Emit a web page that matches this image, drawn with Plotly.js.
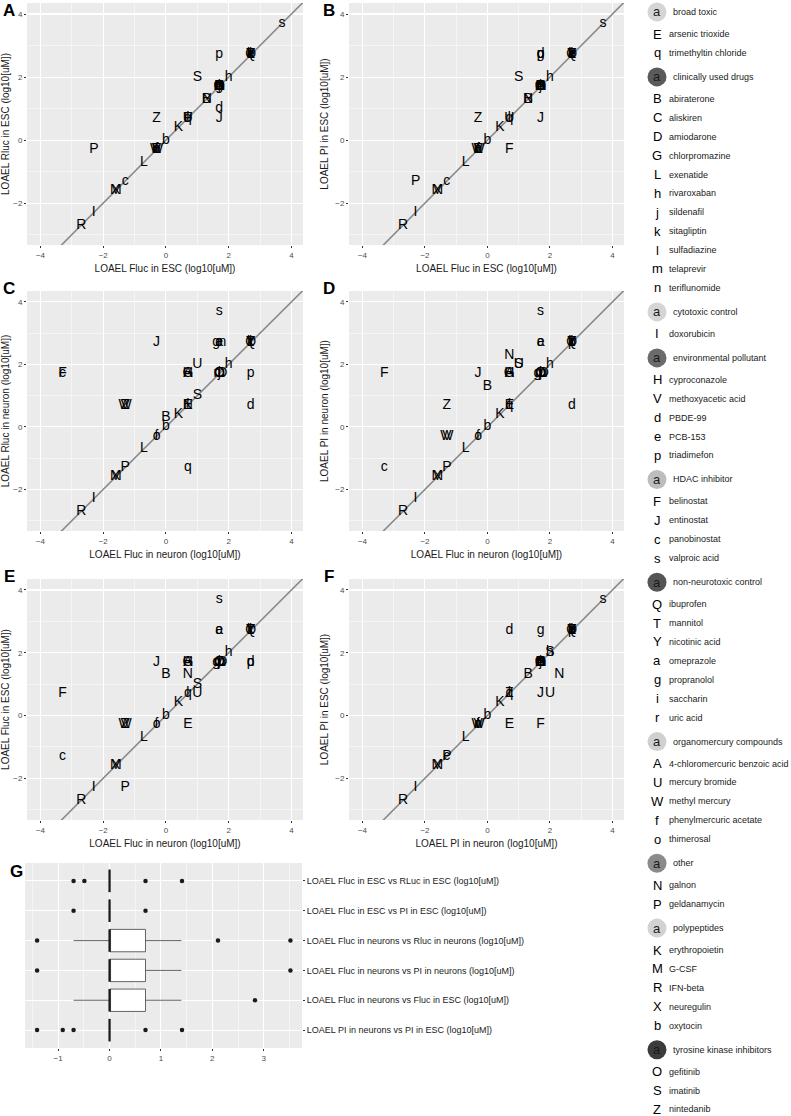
<!DOCTYPE html>
<html><head><meta charset="utf-8">
<script src="https://cdn.plot.ly/plotly-3.0.1.min.js"></script>
<style>html,body{margin:0;padding:0;background:#fff}#chart{width:791px;height:1116px}</style>
</head><body><div id="chart"></div>
<script>
// ---------------- DATA ----------------
const letters = ['E','q','B','C','D','G','L','h','j','k','l','m','n','I','H','V','d','e','p','F','J','c','s','Q','T','Y','a','g','i','r','A','U','W','f','o','N','P','K','M','R','X','b','O','S','Z'];
const compoundNames = ['arsenic trioxide','trimethyltin chloride','abiraterone','aliskiren','amiodarone','chlorpromazine','exenatide','rivaroxaban','sildenafil','sitagliptin','sulfadiazine','telaprevir','teriflunomide','doxorubicin','cyproconazole','methoxyacetic acid','PBDE-99','PCB-153','triadimefon','belinostat','entinostat','panobinostat','valproic acid','ibuprofen','mannitol','nicotinic acid','omeprazole','propranolol','saccharin','uric acid','4-chloromercuric benzoic acid','mercury bromide','methyl mercury','phenylmercuric acetate','thimerosal','galnon','geldanamycin','erythropoietin','G-CSF','IFN-beta','neuregulin','oxytocin','gefitinib','imatinib','nintedanib'];
const compoundGroup = ['broad toxic','broad toxic','clinically used drugs','clinically used drugs','clinically used drugs','clinically used drugs','clinically used drugs','clinically used drugs','clinically used drugs','clinically used drugs','clinically used drugs','clinically used drugs','clinically used drugs','cytotoxic control','environmental pollutant','environmental pollutant','environmental pollutant','environmental pollutant','environmental pollutant','HDAC inhibitor','HDAC inhibitor','HDAC inhibitor','HDAC inhibitor','non-neurotoxic control','non-neurotoxic control','non-neurotoxic control','non-neurotoxic control','non-neurotoxic control','non-neurotoxic control','non-neurotoxic control','organomercury compounds','organomercury compounds','organomercury compounds','organomercury compounds','organomercury compounds','other','other','polypeptides','polypeptides','polypeptides','polypeptides','polypeptides','tyrosine kinase inhibitors','tyrosine kinase inhibitors','tyrosine kinase inhibitors'];
const groupNames = ['broad toxic','clinically used drugs','cytotoxic control','environmental pollutant','HDAC inhibitor','non-neurotoxic control','organomercury compounds','other','polypeptides','tyrosine kinase inhibitors'];

// LOAEL values, log10[uM]         E    q    B    C    D    G    L    h    j    k    l    m    n    I    H    V    d    e    p    F    J    c    s    Q    T    Y    a    g    i    r    A    U    W    f    o    N    P    K    M    R    X    b    O    S    Z
const flucESC    = [-0.3, 0.7, 1.3, 1.7, 1.7, 1.7,-0.7, 2.0, 1.7, 2.7, 0.7, 1.7, 1.7,-2.3, 1.7,-0.3, 1.7, 2.7, 1.7, 0.7, 1.7,-1.3, 3.7, 2.7, 2.7, 2.7, 2.7, 1.7, 2.7, 2.7, 1.7, 0.7,-0.3,-0.3,-0.3, 1.3,-2.3, 0.4,-1.6,-2.7,-1.6, 0.0, 1.7, 1.0,-0.3];
const rlucESC    = [-0.3, 0.7, 1.3, 1.7, 1.7, 1.7,-0.7, 2.0, 1.7, 2.7, 0.7, 1.7, 1.7,-2.3, 1.7,-0.3, 1.0, 2.7, 2.7, 0.7, 0.7,-1.3, 3.7, 2.7, 2.7, 2.7, 2.7, 1.7, 2.7, 2.7, 1.7, 0.7,-0.3,-0.3,-0.3, 1.3,-0.3, 0.4,-1.6,-2.7,-1.6, 0.0, 1.7, 2.0, 0.7];
const piESC      = [-0.3, 0.7, 1.3, 1.7, 1.7, 1.7,-0.7, 2.0, 1.7, 2.7, 0.7, 1.7, 1.7,-2.3, 1.7,-0.3, 2.7, 2.7, 2.7,-0.3, 0.7,-1.3, 3.7, 2.7, 2.7, 2.7, 2.7, 2.7, 2.7, 2.7, 1.7, 0.7,-0.3,-0.3,-0.3, 1.3,-1.3, 0.4,-1.6,-2.7,-1.6, 0.0, 1.7, 2.0, 0.7];
const flucNeuron = [ 0.7, 0.7, 0.0, 1.7, 1.8, 0.7,-0.7, 2.0, 1.7, 2.7, 0.7, 1.7, 1.8,-2.3, 0.7,-1.3, 2.7, 1.7, 2.7,-3.3,-0.3,-3.3, 1.7, 2.7, 2.7, 2.7, 1.7, 1.6, 2.7, 2.7, 0.7, 1.0,-1.3,-0.3,-0.3, 0.7,-1.3, 0.4,-1.6,-2.7,-1.6, 0.0, 1.7, 1.0,-1.3];
const rlucNeuron = [ 0.7,-1.3, 0.3, 1.7, 1.7, 1.7,-0.7, 2.0, 1.7, 2.7, 0.7, 1.7, 2.7,-2.3, 1.7, 0.7, 0.7, 2.7, 1.7, 1.7, 2.7, 1.7, 3.7, 2.7, 2.7, 2.7, 2.7, 2.7, 2.7, 2.7, 1.7, 2.0, 0.7,-0.3,-0.3, 0.7,-1.3, 0.4,-1.6,-2.7,-1.6, 0.0, 1.7, 1.0, 0.7];
const piNeuron   = [ 0.7, 0.7, 1.3, 1.7, 1.7, 1.7,-0.7, 2.0, 1.7, 2.7, 0.7, 1.7, 1.7,-2.3, 1.7,-0.3, 0.7, 2.7, 2.7, 1.7, 1.7,-1.3, 3.7, 2.7, 2.7, 2.7, 2.7, 1.7, 2.7, 2.7, 1.7, 2.0,-0.3,-0.3,-0.3, 2.3,-1.3, 0.4,-1.6,-2.7,-1.6, 0.0, 1.7, 2.0, 0.7];

// Panel G: differences (box statistics)
const compLabels = ['LOAEL Fluc in ESC vs RLuc in ESC (log10[uM])','LOAEL Fluc in ESC vs PI in ESC (log10[uM])','LOAEL Fluc in neurons vs Rluc in neurons (log10[uM])','LOAEL Fluc in neurons vs PI in neurons (log10[uM])','LOAEL Fluc in neurons vs Fluc in ESC (log10[uM])','LOAEL PI in neurons vs PI in ESC (log10[uM])'];
const boxQ1     = [0, 0, 0,   0,   0,   0];
const boxMedian = [0, 0, 0,   0,   0,   0];
const boxQ3     = [0, 0, 0.7, 0.7, 0.7, 0];
const boxLower  = [0, 0, -0.7, 0, -0.7, 0];
const boxUpper  = [0, 0, 1.4, 1.4, 1.4, 0];
const boxOutliers = [[-0.7,-0.49,0.7,1.41],[-0.7,0.7],[-1.41,2.11,3.52],[-1.41,3.52],[2.83],[-1.41,-0.91,-0.7,0.7,1.41]];

// ---------------- STYLE / LAYOUT ----------------
const W = 791, H = 1116;
const FONT = 'Liberation Sans, Arial, Helvetica, sans-serif';
const groupColors = ['#d5d5d5','#5a5a5a','#d5d5d5','#6b6b6b','#bdbdbd','#555555','#d0d0d0','#8b8b8b','#d2d2d2','#3c3c3c'];
const colsX = [[27,303],[349,624]];
const rowsY = [[3,245],[291,531],[579,820]];
const xRange = [-4.43, 4.37], yRange = [-3.33, 4.35];

const panels = [
  {lab:'A', x:flucESC,    y:rlucESC,    xt:'LOAEL Fluc in ESC (log10[uM])',    yt:'LOAEL Rluc in ESC (log10[uM])'},
  {lab:'B', x:flucESC,    y:piESC,      xt:'LOAEL Fluc in ESC (log10[uM])',    yt:'LOAEL PI in ESC (log10[uM])'},
  {lab:'C', x:flucNeuron, y:rlucNeuron, xt:'LOAEL Fluc in neuron (log10[uM])', yt:'LOAEL Rluc in neuron (log10[uM])'},
  {lab:'D', x:flucNeuron, y:piNeuron,   xt:'LOAEL Fluc in neuron (log10[uM])', yt:'LOAEL PI in neuron (log10[uM])'},
  {lab:'E', x:flucNeuron, y:flucESC,    xt:'LOAEL Fluc in neuron (log10[uM])', yt:'LOAEL Fluc in ESC (log10[uM])'},
  {lab:'F', x:piNeuron,   y:piESC,      xt:'LOAEL PI in neuron (log10[uM])',   yt:'LOAEL PI in ESC (log10[uM])'}
];

const traces = [], annotations = [], shapes = [];
const layout = {
  width: W, height: H, margin:{l:0,r:0,t:0,b:0},
  paper_bgcolor:'#ffffff', plot_bgcolor:'#EBEBEB',
  showlegend:false, hovermode:false,
  font:{family:FONT, color:'#1a1a1a'}
};
const tickFont = {family:FONT, size:8, color:'#4d4d4d'};
const titleFont = {family:FONT, size:10, color:'#1a1a1a'};

panels.forEach((p, i) => {
  const col = i % 2, row = Math.floor(i/2);
  const sfx = i === 0 ? '' : String(i+1);
  const xa = 'x' + sfx, ya = 'y' + sfx;
  layout['xaxis' + sfx] = {
    domain:[colsX[col][0]/W, colsX[col][1]/W], anchor: ya, range: xRange,
    tickmode:'array', tickvals:[-4,-2,0,2,4], showgrid:true, gridcolor:'#ffffff', gridwidth:1.1,
    minor:{tickmode:'array', tickvals:[-3,-1,1,3], showgrid:true, gridcolor:'#ffffff', gridwidth:0.5, ticks:''},
    zeroline:false, showline:false, ticks:'outside', ticklen:2, tickcolor:'#333333', tickwidth:1,
    tickfont: tickFont, title:{text:p.xt, font:titleFont, standoff:6}, fixedrange:true
  };
  layout['yaxis' + sfx] = {
    domain:[1 - rowsY[row][1]/H, 1 - rowsY[row][0]/H], anchor: xa, range: yRange,
    tickmode:'array', tickvals:[-2,0,2,4], showgrid:true, gridcolor:'#ffffff', gridwidth:1.1,
    minor:{tickmode:'array', tickvals:[-3,-1,1,3], showgrid:true, gridcolor:'#ffffff', gridwidth:0.5, ticks:''},
    zeroline:false, showline:false, ticks:'outside', ticklen:2, tickcolor:'#333333', tickwidth:1,
    tickfont: tickFont, title:{text:p.yt, font:titleFont, standoff:4}, fixedrange:true
  };
  // identity reference line spanning the axis range
  const lo = Math.min(xRange[0], yRange[0]) - 1, hi = Math.max(xRange[1], yRange[1]) + 1;
  traces.push({type:'scatter', mode:'lines', x:[lo,hi], y:[lo,hi], xaxis:xa, yaxis:ya,
    line:{color:'#8a8a8a', width:1.6}, hoverinfo:'skip', cliponaxis:true});
  traces.push({type:'scatter', mode:'text', x:p.x, y:p.y, text:letters, xaxis:xa, yaxis:ya,
    textposition:'middle center', textfont:{family:FONT, size:14, color:'#000000'}, hoverinfo:'skip', cliponaxis:true});
  annotations.push({text:'<b>'+p.lab+'</b>', xref:'paper', yref:'paper',
    x:(col === 0 ? 9 : 329)/W, y:1 - (rowsY[row][0] + (row===0?8:-3))/H,
    xanchor:'center', yanchor:'middle', showarrow:false, font:{family:FONT, size:17, color:'#000'}});
});

// ---------------- Panel G ----------------
const gX = [25,302], gY = [863,1048];
const rowPos = compLabels.map((_, k) => compLabels.length - 1 - k);
layout.xaxis7 = {
  domain:[gX[0]/W, gX[1]/W], anchor:'y7', range:[-1.645, 3.745],
  tickmode:'array', tickvals:[-1,0,1,2,3], showgrid:true, gridcolor:'#ffffff', gridwidth:1.1,
  minor:{tickmode:'array', tickvals:[-1.5,-0.5,0.5,1.5,2.5,3.5], showgrid:true, gridcolor:'#ffffff', gridwidth:0.5, ticks:''},
  zeroline:false, showline:false, ticks:'outside', ticklen:2, tickcolor:'#333333', tickfont:tickFont, fixedrange:true
};
layout.yaxis7 = {
  domain:[1 - gY[1]/H, 1 - gY[0]/H], anchor:'x7', range:[-0.6, compLabels.length - 0.4], side:'right',
  tickmode:'array', tickvals:rowPos, ticktext:compLabels, showgrid:true, gridcolor:'#ffffff', gridwidth:1.1,
  zeroline:false, showline:false, ticks:'outside', ticklen:2, tickcolor:'#333333',
  tickfont:{family:FONT, size:9, color:'#1a1a1a'}, fixedrange:true
};
traces.push({type:'box', orientation:'h', xaxis:'x7', yaxis:'y7', y:rowPos,
  q1:boxQ1, median:boxMedian, q3:boxQ3, lowerfence:boxLower, upperfence:boxUpper,
  boxpoints:false, width:0.75, whiskerwidth:0, fillcolor:'#ffffff', line:{color:'#555555', width:0.9}, hoverinfo:'skip'});
// thick median bars
const mx = [], my = [];
boxMedian.forEach((m, k) => { mx.push(m, m, null); my.push(rowPos[k] - 0.375, rowPos[k] + 0.375, null); });
traces.push({type:'scatter', mode:'lines', x:mx, y:my, xaxis:'x7', yaxis:'y7', line:{color:'#1a1a1a', width:2.2}, hoverinfo:'skip'});
// outliers
const ox = [], oy = [];
boxOutliers.forEach((arr, k) => arr.forEach(v => { ox.push(v); oy.push(rowPos[k]); }));
traces.push({type:'scatter', mode:'markers', x:ox, y:oy, xaxis:'x7', yaxis:'y7', marker:{size:4.5, color:'#1a1a1a'}, hoverinfo:'skip'});
annotations.push({text:'<b>G</b>', xref:'paper', yref:'paper', x:16/W, y:1 - 871/H, xanchor:'center', yanchor:'middle', showarrow:false, font:{family:FONT, size:17, color:'#000'}});

// ---------------- Legend (right side) ----------------
let yy = 12;
const keyX = 657;
groupNames.forEach((g, gi) => {
  shapes.push({type:'circle', xref:'paper', yref:'paper', x0:(keyX-9.5)/W, x1:(keyX+9.5)/W, y0:1-(yy+9.5)/H, y1:1-(yy-9.5)/H,
    fillcolor:groupColors[gi], line:{width:0}, layer:'above'});
  annotations.push({text:'a', xref:'paper', yref:'paper', x:keyX/W, y:1-yy/H, xanchor:'center', yanchor:'middle', showarrow:false,
    font:{family:FONT, size:13, color:'#1a1a1a'}});
  annotations.push({text:g, xref:'paper', yref:'paper', x:671/W, y:1-yy/H, xanchor:'left', yanchor:'middle', showarrow:false,
    font:{family:FONT, size:9, color:'#1a1a1a'}});
  yy += 22;
  letters.forEach((L, ci) => {
    if (compoundGroup[ci] !== g) return;
    annotations.push({text:L, xref:'paper', yref:'paper', x:keyX/W, y:1-yy/H, xanchor:'center', yanchor:'middle', showarrow:false,
      font:{family:FONT, size:13, color:'#000'}});
    annotations.push({text:compoundNames[ci], xref:'paper', yref:'paper', x:667/W, y:1-yy/H, xanchor:'left', yanchor:'middle', showarrow:false,
      font:{family:FONT, size:9, color:'#1a1a1a'}});
    yy += 18.9;
  });
  yy += 5.1;
});

layout.annotations = annotations;
layout.shapes = shapes;
Plotly.newPlot('chart', traces, layout, {staticPlot:true, displayModeBar:false});
</script>
</body></html>
